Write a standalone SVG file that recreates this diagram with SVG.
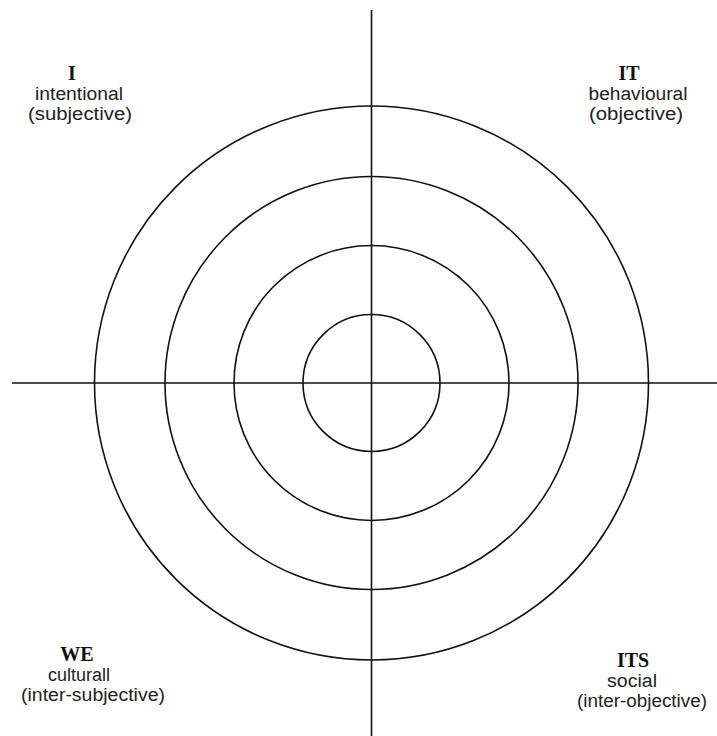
<svg xmlns="http://www.w3.org/2000/svg" width="717" height="736" viewBox="0 0 717 736">
  <style>
    .ring { fill: none; stroke: #111; stroke-width: 1.6; }
    .axis { stroke: #111; stroke-width: 1.6; fill: none; }
    .head { font-family: "Liberation Serif", "Times New Roman", serif; font-weight: bold; font-size: 20px; fill: #111; text-anchor: middle; }
    .sub { font-family: "Liberation Sans", Arial, sans-serif; font-size: 18px; fill: #222; text-anchor: middle; }
  </style>
  <rect width="717" height="736" fill="#fff"/>
  <g id="rings">
    <circle id="ring-outer" class="ring" cx="371.5" cy="383" r="277"/>
    <circle id="ring-2" class="ring" cx="371.5" cy="383" r="206.5"/>
    <circle id="ring-3" class="ring" cx="371.5" cy="383" r="137.5"/>
    <circle id="ring-inner" class="ring" cx="371.5" cy="383" r="68.5"/>
  </g>
  <g id="connectors">
    <line class="axis" x1="371.5" y1="10" x2="371.5" y2="736"/>
    <line class="axis" x1="12" y1="383" x2="717" y2="383"/>
  </g>
  <g id="node-I">
    <text class="head" x="72" y="80">I</text>
    <text class="sub" x="79" y="100" textLength="88" lengthAdjust="spacingAndGlyphs">intentional</text>
    <text class="sub" x="80" y="120" textLength="104" lengthAdjust="spacingAndGlyphs">(subjective)</text>
  </g>
  <g id="node-IT">
    <text class="head" x="629" y="80">IT</text>
    <text class="sub" x="638" y="100" textLength="99" lengthAdjust="spacingAndGlyphs">behavioural</text>
    <text class="sub" x="636" y="120" textLength="94" lengthAdjust="spacingAndGlyphs">(objective)</text>
  </g>
  <g id="node-WE">
    <text class="head" x="77" y="661">WE</text>
    <text class="sub" x="79" y="681" textLength="62" lengthAdjust="spacingAndGlyphs">culturall</text>
    <text class="sub" x="93" y="701" textLength="144" lengthAdjust="spacingAndGlyphs">(inter-subjective)</text>
  </g>
  <g id="node-ITS">
    <text class="head" x="633" y="667">ITS</text>
    <text class="sub" x="632" y="687" textLength="50" lengthAdjust="spacingAndGlyphs">social</text>
    <text class="sub" x="642" y="707" textLength="130" lengthAdjust="spacingAndGlyphs">(inter-objective)</text>
  </g>
</svg>
